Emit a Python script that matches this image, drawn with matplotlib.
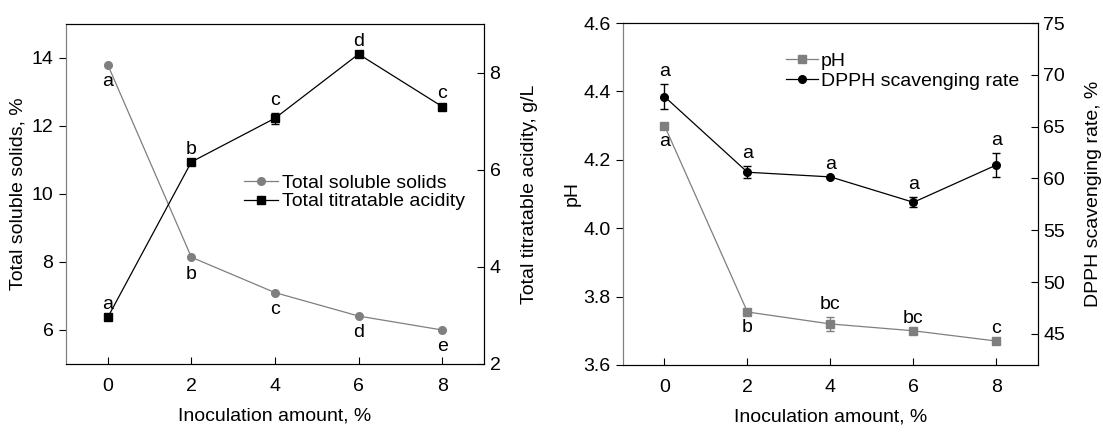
import matplotlib
matplotlib.use("Agg")
import matplotlib.pyplot as plt
from matplotlib.lines import Line2D

plt.rcParams['font.family'] = ['Liberation Sans', 'DejaVu Sans']
plt.rcParams['font.size'] = 14

# data
inoc = [0, 2, 4, 6, 8]
tss = [13.80, 8.14, 7.10, 6.41, 6.00]
tss_err = [0.0, 0.0, 0.0, 0.0, 0.0]
tss_sig = ['a', 'b', 'c', 'd', 'e']
tta = [2.96, 6.16, 7.06, 8.38, 7.30]
tta_err = [0.0, 0.0, 0.11, 0.0, 0.0]
tta_sig = ['a', 'b', 'c', 'd', 'c']

ph = [4.30, 3.755, 3.72, 3.70, 3.67]
ph_err = [0.0, 0.0, 0.02, 0.0, 0.0]
ph_sig = ['a', 'b', 'bc', 'bc', 'c']
dpph = [67.9, 60.6, 60.15, 57.7, 61.3]
dpph_err = [1.2, 0.6, 0.0, 0.5, 1.15]
dpph_sig = ['a', 'a', 'a', 'a', 'a']

GRAY = '#7f7f7f'
MS = 5.5
LW = 0.9

fig = plt.figure(figsize=(11.03, 4.34), dpi=100)
ax1 = fig.add_axes([0.0598, 0.1613, 0.3790, 0.7834])
ax3 = fig.add_axes([0.5648, 0.1590, 0.3762, 0.7880])


def style(ax, axr):
    ax.set_xlim(-1, 9)
    ax.set_xticks(inoc)
    ax.tick_params(axis='x', direction='in', length=5, pad=10)
    ax.tick_params(axis='y', direction='out', length=5, pad=4)
    axr.tick_params(axis='y', direction='in', length=5, pad=4)
    ax.spines['left'].set_color(GRAY)
    axr.spines['left'].set_color(GRAY)
    ax.set_xlabel("Inoculation amount, %", labelpad=9)


# left panel
ax2 = ax1.twinx()
ax1.errorbar(inoc, tss, yerr=tss_err, color=GRAY, marker='o', ms=MS,
             lw=LW, capsize=3, elinewidth=1)
ax2.errorbar(inoc, tta, yerr=tta_err, color='black', marker='s', ms=MS,
             lw=LW, capsize=3, elinewidth=1)
ax1.set_ylim(5, 15)
ax1.set_yticks([6, 8, 10, 12, 14])
ax2.set_ylim(2, 9)
ax2.set_yticks([2, 4, 6, 8])
ax1.set_ylabel("Total soluble solids, %", labelpad=4)
ax2.set_ylabel("Total titratable acidity, g/L", labelpad=15)
style(ax1, ax2)
for x, y, s in zip(inoc, tss, tss_sig):
    ax1.annotate(s, (x, y), xytext=(0, -6), textcoords='offset points',
                 ha='center', va='top')
for x, y, e, s in zip(inoc, tta, tta_err, tta_sig):
    ax2.annotate(s, (x, y + e), xytext=(0, 3), textcoords='offset points',
                 ha='center', va='bottom')
h1 = Line2D([], [], color=GRAY, marker='o', ms=MS, lw=LW)
h2 = Line2D([], [], color='black', marker='s', ms=MS, lw=LW)
ax1.legend([h1, h2], ['Total soluble solids', 'Total titratable acidity'],
           loc='upper left', bbox_to_anchor=(0.426, 0.558), frameon=False,
           handlelength=1.75, handletextpad=0.2, borderpad=0, borderaxespad=0,
           labelspacing=0.05)

# right panel
ax4 = ax3.twinx()
ax3.errorbar(inoc, ph, yerr=ph_err, color=GRAY, marker='s', ms=MS,
             lw=LW, capsize=3, elinewidth=1)
ax4.errorbar(inoc, dpph, yerr=dpph_err, color='black', marker='o', ms=MS,
             lw=LW, capsize=3, elinewidth=1)
ax3.set_ylim(3.6, 4.6)
ax3.set_yticks([3.6, 3.8, 4.0, 4.2, 4.4, 4.6])
ax4.set_ylim(42, 75)
ax4.set_yticks([45, 50, 55, 60, 65, 70, 75])
ax3.set_ylabel("pH", labelpad=2)
ax4.set_ylabel("DPPH scavenging rate, %", labelpad=14)
style(ax3, ax4)
for x, y, e, s in zip(inoc, ph, ph_err, ph_sig):
    if x <= 2:
        ax3.annotate(s, (x, y), xytext=(0, -5), textcoords='offset points',
                     ha='center', va='top')
    else:
        ax3.annotate(s, (x, y + e), xytext=(0, 3), textcoords='offset points',
                     ha='center', va='bottom')
for x, y, e, s in zip(inoc, dpph, dpph_err, dpph_sig):
    ax4.annotate(s, (x, y + e), xytext=(0, 3), textcoords='offset points',
                 ha='center', va='bottom')
h3 = Line2D([], [], color=GRAY, marker='s', ms=MS, lw=LW)
h4 = Line2D([], [], color='black', marker='o', ms=MS, lw=LW)
ax3.legend([h3, h4], ['pH', 'DPPH scavenging rate'],
           loc='upper left', bbox_to_anchor=(0.393, 0.915), frameon=False,
           handlelength=1.65, handletextpad=0.15, borderpad=0, borderaxespad=0,
           labelspacing=0.12)

fig.savefig("out.png", dpi=100)
